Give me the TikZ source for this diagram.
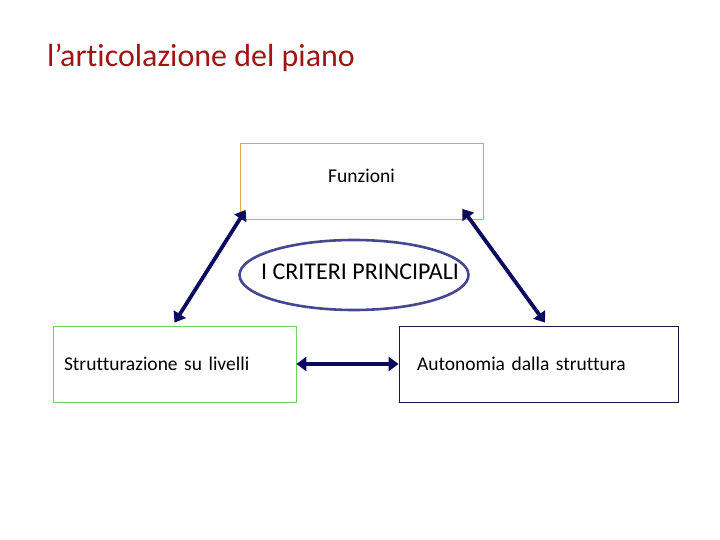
\documentclass[tikz,border=0pt]{standalone}
\usepackage{fontspec}
\setmainfont{Carlito}[Ligatures=NoCommon]
\usetikzlibrary{shapes.geometric, arrows.meta}

\definecolor{titlered}{RGB}{160,20,20}
\definecolor{boxgold}{RGB}{218,168,70}
\definecolor{boxgreen}{RGB}{110,210,100}
\definecolor{boxnavy}{RGB}{25,25,60}
\definecolor{ovalblue}{RGB}{70,70,145}
\definecolor{linknavy}{RGB}{10,10,95}

\tikzset{
  crit/.style={draw, rectangle, line width=0.8pt, inner sep=0pt, minimum height=76pt, font=\fontsize{19.5}{23}\selectfont},
  link/.style={linknavy, line width=3.8pt, {Triangle[length=10pt,width=14pt]}-{Triangle[length=10pt,width=14pt]}}
}

\begin{document}
\begin{tikzpicture}[x=1pt, y=1pt]
				\useasboundingbox (0,0) rectangle (720,540);
				
				% Title
				\node[anchor=base west, inner sep=0pt, text=titlered, font=\fontsize{32}{36}\selectfont] (title) at (47,473) {l’articolazione del piano};
				
				% Draw the three criteria
				\node[crit, boxgold, minimum width=243pt, label={[yshift=6pt, text=black, font=\fontsize{19.5}{23}\selectfont]center:Funzioni}] (fun) at (361.5,358.5) {};
				\node[crit, boxgreen, minimum width=243pt, text width=221pt, text=black, align=left] (strutt) at (174.5,176) {Strutturazione su livelli};
				\node[crit, boxnavy, minimum width=279pt, text width=243pt, text=black, align=left] (auto) at (538.5,176) {Autonomia dalla struttura\\[2pt]};
				
				% Central oval
				\node[draw=ovalblue, ellipse, line width=2.6pt, minimum width=229pt, minimum height=70pt, inner sep=0pt, label={[xshift=6pt, yshift=3pt, font=\fontsize{24}{28}\selectfont]center:I CRITERI PRINCIPALI}] (crit) at (354,265) {};
				
				% Draw the links
				\draw[link] ([shift={(6pt,10pt)}]fun.south west) -- ([yshift=3pt]strutt.north);
				\draw[link] ([shift={(-21pt,11pt)}]fun.south east) -- ([shift={(6.5pt,3pt)}]auto.north);
				\draw[link] (strutt.east) -- (auto.west);
			\end{tikzpicture}
\end{document}
